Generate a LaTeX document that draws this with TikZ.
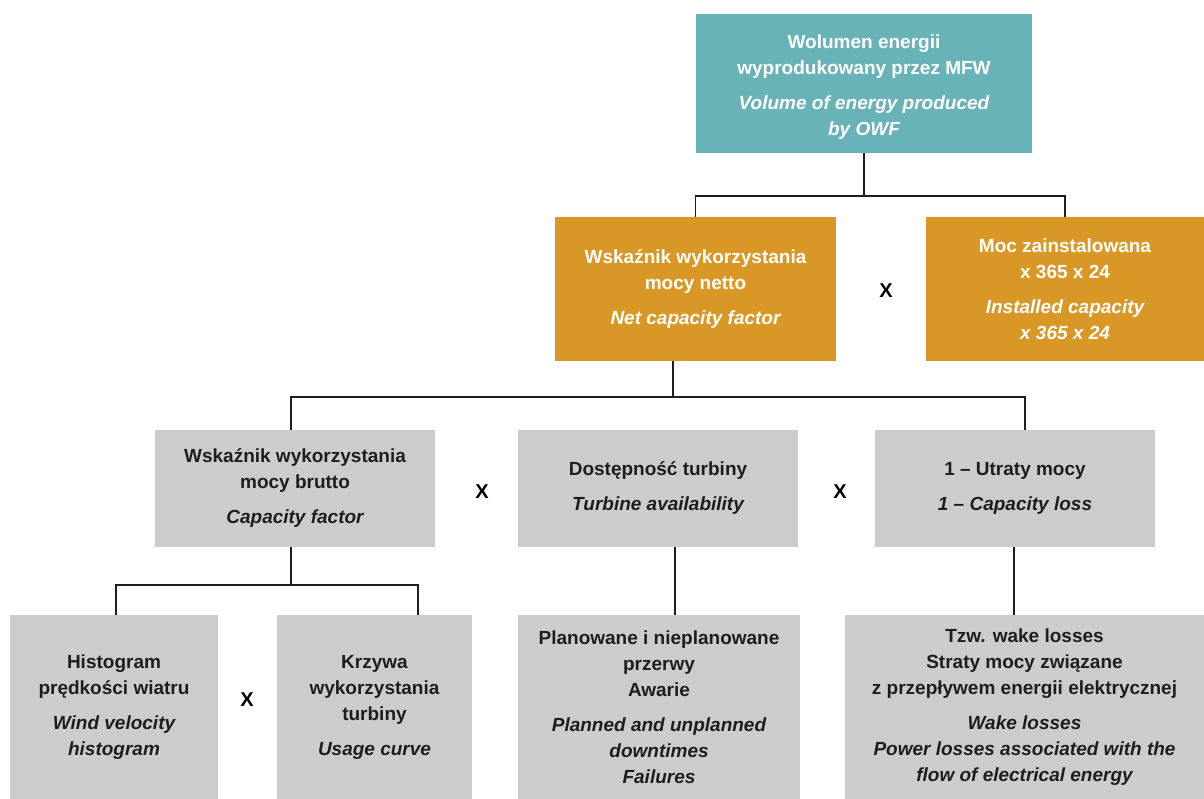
\documentclass[tikz,border=0pt]{standalone}
\usepackage{fontspec}
\setmainfont{Liberation Sans}
\usetikzlibrary{calc}
\definecolor{teal}{RGB}{104,179,184}
\definecolor{amber}{RGB}{217,152,38}
\definecolor{pale}{RGB}{204,204,204}
\definecolor{ink}{RGB}{30,30,30}
\tikzset{
  box/.style={rectangle, inner sep=0pt, align=center, font=\fontsize{19}{26}\selectfont\bfseries},
  topbox/.style={box, fill=teal, text=white},
  midbox/.style={box, fill=amber, text=white},
  lowbox/.style={box, fill=pale, text=ink},
  link/.style={draw=ink, line width=1.4pt},
  times/.style={font=\fontsize{20}{24}\selectfont\bfseries, text=black}
}
\newcommand{\gap}{\\[9pt]}
\begin{document}
\begin{tikzpicture}[x=1pt,y=-1pt]
\useasboundingbox (0,0) rectangle (1204,799);

% level 1 (box drawn separately so the text can sit a little low)
\fill[teal] (696,14) rectangle (1032,153);
\node[topbox, fill=none, minimum width=336pt, minimum height=139pt] (top) at (864,87.5)
  {Wolumen energii\\wyprodukowany przez MFW\gap\itshape Volume of energy produced\\\itshape by OWF};
\coordinate (topfoot) at (864,153);

% level 2
\node[midbox, minimum width=281pt, minimum height=144pt] (net) at (695.5,289)
  {Wskaźnik wykorzystania\\mocy netto\gap\itshape Net capacity factor};
\node[midbox, minimum width=278pt, minimum height=144pt] (inst) at (1065,289)
  {Moc zainstalowana\\x 365 x 24\gap\itshape Installed capacity\\\itshape x 365 x 24};
\node[times] (x1) at (886,291) {X};

% level 3
\node[lowbox, minimum width=280pt, minimum height=117pt] (gross) at (295,488.5)
  {Wskaźnik wykorzystania\\mocy brutto\gap\itshape Capacity factor};
\node[lowbox, minimum width=280pt, minimum height=117pt] (avail) at (658,488.5)
  {Dostępność turbiny\gap\itshape Turbine availability};
\node[lowbox, minimum width=280pt, minimum height=117pt] (loss) at (1015,488.5)
  {1 – Utraty mocy\gap\itshape 1 – Capacity loss};
\node[times] (x2) at (482,492) {X};
\node[times] (x3) at (840,492) {X};

% level 4
\node[lowbox, minimum width=208pt, minimum height=184pt] (hist) at (114,707)
  {Histogram\\prędkości wiatru\gap\itshape Wind velocity\\\itshape histogram};
\node[lowbox, minimum width=195pt, minimum height=184pt] (curve) at (374.5,707)
  {Krzywa\\wykorzystania\\turbiny\gap\itshape Usage curve};
\node[lowbox, minimum width=282pt, minimum height=184pt] (down) at (659,707)
  {Planowane i nieplanowane\\przerwy\\Awarie\gap\itshape Planned and unplanned\\\itshape downtimes\\\itshape Failures};
\node[lowbox, minimum width=359pt, minimum height=184pt] (wake) at (1024.5,707)
  {Tzw. wake losses\\Straty mocy związane\\z przepływem energii elektrycznej\gap
   \itshape Wake losses\\\itshape Power losses associated with the\\\itshape flow of electrical energy};
\node[times] (x4) at (247,700) {X};

% bus lines
\coordinate (bus1) at (0,196);
\coordinate (bus2) at (0,397);
\coordinate (bus3) at (0,585);

% connectors
\draw[link] (topfoot) -- (topfoot |- bus1);
\draw[link] (net.north) |- (bus1 -| inst.north) -- (inst.north);

\coordinate (netfoot) at ($(net.south)+(-22.5,0)$);
\coordinate (grosshead) at ($(gross.north)+(-4,0)$);
\coordinate (losshead) at ($(loss.north)+(10,0)$);
\draw[link] (netfoot) -- (netfoot |- bus2);
\draw[link] (grosshead) |- (bus2 -| losshead) -- (losshead);

\coordinate (grossfoot) at ($(gross.south)+(-4,0)$);
\coordinate (histhead) at ($(hist.north)+(2,0)$);
\coordinate (curvehead) at ($(curve.north)+(43.5,0)$);
\draw[link] (grossfoot) -- (grossfoot |- bus3);
\draw[link] (histhead) |- (bus3 -| curvehead) -- (curvehead);

\coordinate (availfoot) at ($(avail.south)+(17,0)$);
\draw[link] (availfoot) -- (availfoot |- down.north);
\coordinate (lossfoot) at ($(loss.south)+(-1,0)$);
\draw[link] (lossfoot) -- (lossfoot |- wake.north);
\end{tikzpicture}
\end{document}
